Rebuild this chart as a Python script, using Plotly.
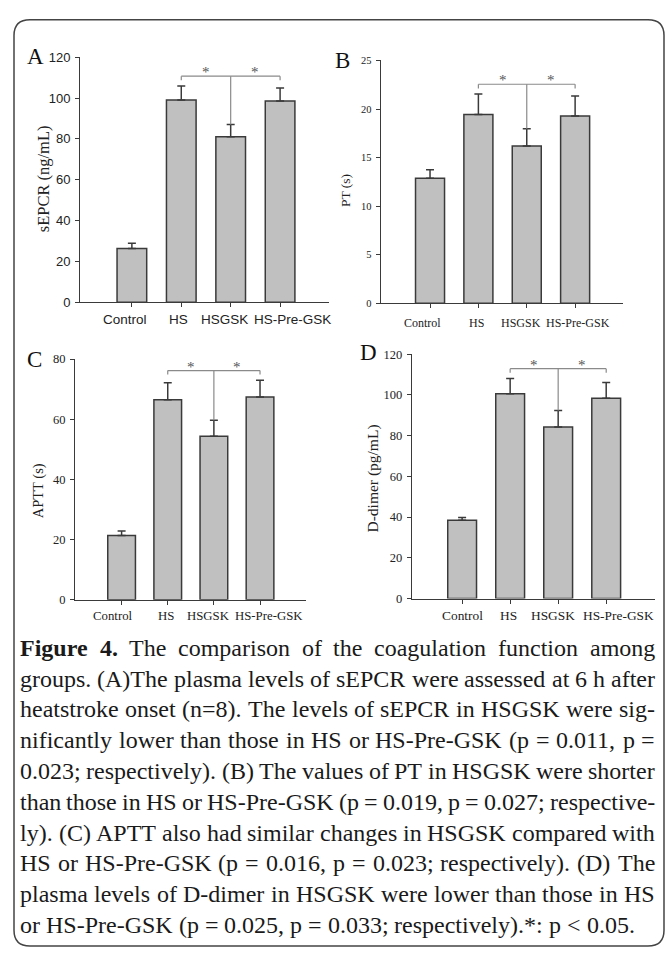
import plotly.graph_objects as go

W, H = 668, 956

# ---------------- data ----------------
CATEGORIES = ["Control", "HS", "HSGSK", "HS-Pre-GSK"]

SEPCR_MEAN = [26.3, 99.1, 81.1, 98.5]
SEPCR_SEM = [2.6, 6.8, 6.0, 6.4]

PT_MEAN = [12.87, 19.43, 16.2, 19.29]
PT_SEM = [0.88, 2.12, 1.77, 2.06]

APTT_MEAN = [21.4, 66.5, 54.4, 67.4]
APTT_SEM = [1.5, 5.6, 5.3, 5.6]

DDIMER_MEAN = [38.5, 100.6, 84.2, 98.4]
DDIMER_SEM = [1.3, 7.5, 8.2, 7.7]

Y_TICKS_A = [0, 20, 40, 60, 80, 100, 120]
Y_TICKS_B = [0, 5, 10, 15, 20, 25]
Y_TICKS_C = [0, 20, 40, 60, 80]
Y_TICKS_D = [0, 20, 40, 60, 80, 100, 120]

CAPTION_LINES = [
    "Figure 4. The comparison of the coagulation function among",
    "groups. (A)The plasma levels of sEPCR were assessed at 6 h after",
    "heatstroke onset (n=8). The levels of sEPCR in HSGSK were sig-",
    "nificantly lower than those in HS or HS-Pre-GSK (p = 0.011, p =",
    "0.023; respectively). (B) The values of PT in HSGSK were shorter",
    "than those in HS or HS-Pre-GSK (p = 0.019, p = 0.027; respective-",
    "ly). (C) APTT also had similar changes in HSGSK compared with",
    "HS or HS-Pre-GSK (p = 0.016, p = 0.023; respectively). (D) The",
    "plasma levels of D-dimer in HSGSK were lower than those in HS",
    "or HS-Pre-GSK (p = 0.025, p = 0.033; respectively).*: p < 0.05.",
]


def px(p):
    return p / W


def py(p):
    return 1 - p / H


SERIF = "Liberation Serif"
SANS = "Liberation Sans"
AXC = "#3a3a3a"

panels = [
    dict(letter="A", title="sEPCR (ng/mL)", mean=SEPCR_MEAN, sem=SEPCR_SEM, ticks=Y_TICKS_A,
         xdom=(80, 329), ydom=(300, 51), xr=(-1.05, 3.99),
         tfont=SANS, ytick_size=13, xtick_size=13.5, lab_shift=[-7, -3, -6.5, 12.5], lab_dy=17,
         title_size=16.5, title_pos=(43, 174), letter_pos=(35, 50)),
    dict(letter="B", title="PT (s)", mean=PT_MEAN, sem=PT_SEM, ticks=Y_TICKS_B,
         xdom=(380.7, 623), ydom=(301, 54.3), xr=(-1.02, 3.99),
         tfont=SERIF, ytick_size=10.5, xtick_size=12, lab_shift=[-8, -2, -6, 3], lab_dy=20,
         title_size=13.5, title_pos=(345, 187), letter_pos=(342, 54)),
    dict(letter="C", title="APTT (s)", mean=APTT_MEAN, sem=APTT_SEM, ticks=Y_TICKS_C,
         xdom=(75, 305.7), ydom=(602.3, 357.7), xr=(-1.01, 3.99),
         tfont=SERIF, ytick_size=12.5, xtick_size=12.8, lab_shift=[-9, -2, -5, 9], lab_dy=16,
         title_size=14.5, title_pos=(38, 492), letter_pos=(34, 358)),
    dict(letter="D", title="D-dimer (pg/mL)", mean=DDIMER_MEAN, sem=DDIMER_SEM, ticks=Y_TICKS_D,
         xdom=(411.7, 654.7), ydom=(601, 352.7), xr=(-1.05, 4.01),
         tfont=SERIF, ytick_size=12.5, xtick_size=13.4, lab_shift=[0, -2, -5, 12], lab_dy=17,
         title_size=15.5, title_pos=(373, 479), letter_pos=(368, 351)),
]

fig = go.Figure()
shapes = []
annotations = []
layout = {}

for i, p in enumerate(panels):
    n = "" if i == 0 else str(i + 1)
    xa, ya = "x" + n, "y" + n
    ymax = p["ticks"][-1]
    fig.add_trace(go.Bar(
        x=CATEGORIES, y=p["mean"], width=0.6,
        marker=dict(color="#c0c0c0", line=dict(color=AXC, width=1.5)),
        error_y=dict(type="data", symmetric=False, array=p["sem"],
                     arrayminus=[0] * len(p["sem"]), color=AXC, thickness=1.5, width=4),
        xaxis=xa, yaxis=ya, showlegend=False, hoverinfo="skip",
    ))
    layout["xaxis" + n] = dict(
        domain=[px(p["xdom"][0]), px(p["xdom"][1])], anchor=ya,
        range=list(p["xr"]), type="category", showticklabels=False,
        showline=True, linecolor=AXC, linewidth=1, showgrid=False, zeroline=False,
        ticks="outside", ticklen=4, tickcolor=AXC, tickwidth=1, fixedrange=True,
    )
    layout["yaxis" + n] = dict(
        domain=[py(p["ydom"][0]), py(p["ydom"][1])], anchor=xa,
        range=[0, ymax], tickvals=p["ticks"],
        showline=True, linecolor=AXC, linewidth=1, showgrid=False, zeroline=False,
        ticks="outside", ticklen=4, tickcolor=AXC, tickwidth=1,
        tickfont=dict(family=p["tfont"], size=p["ytick_size"], color="#222"),
        ticklabelstandoff=2, fixedrange=True,
    )

    # category labels (placed below each tick, nudged like the original figure)
    for ci, cat in enumerate(CATEGORIES):
        annotations.append(dict(x=ci, y=0, xref=xa, yref=ya, text=cat, showarrow=False,
                                xanchor="center", yanchor="middle",
                                xshift=p["lab_shift"][ci], yshift=-p["lab_dy"],
                                font=dict(family=p["tfont"], size=p["xtick_size"], color="#222")))

    # significance bracket derived from data
    tops = [m + s for m, s in zip(p["mean"], p["sem"])]
    yb = max(tops) + 0.04 * ymax
    drop = 0.017 * ymax
    bc = dict(color="#8a8a8a", width=1.2)
    for (x0, y0, x1, y1) in [(1, yb, 3, yb), (1, yb, 1, yb - drop), (3, yb, 3, yb - drop),
                             (2, yb, 2, tops[2])]:
        shapes.append(dict(type="line", xref=xa, yref=ya, x0=x0, y0=y0, x1=x1, y1=y1, line=bc))
    for xs in (1.5, 2.5):
        annotations.append(dict(x=xs, y=yb, xref=xa, yref=ya, text="*", showarrow=False,
                                yanchor="bottom", yshift=-6,
                                font=dict(family=SERIF, size=15, color="#555555")))

    # axis title and panel letter
    annotations.append(dict(x=px(p["title_pos"][0]), y=py(p["title_pos"][1]), xref="paper",
                            yref="paper", text=p["title"], textangle=-90, showarrow=False,
                            xanchor="center", yanchor="middle",
                            font=dict(family=SERIF, size=p["title_size"], color="#222")))
    annotations.append(dict(x=px(p["letter_pos"][0]), y=py(p["letter_pos"][1]), xref="paper",
                            yref="paper", text=p["letter"], showarrow=False,
                            xanchor="center", yanchor="middle",
                            font=dict(family=SERIF, size=23, color="#111")))

# ---------------- caption (justified) ----------------
TR = {" ": 250, "(": 333, ")": 333, "*": 500, ",": 250, "-": 333, ".": 250, "/": 278,
      ":": 278, ";": 278, "<": 564, "=": 564, ">": 564,
      "A": 722, "B": 667, "C": 667, "D": 722, "E": 611, "F": 556, "G": 722, "H": 722,
      "I": 333, "J": 389, "K": 722, "L": 611, "M": 889, "N": 722, "O": 722, "P": 556,
      "Q": 722, "R": 667, "S": 556, "T": 611, "U": 722, "V": 722, "W": 944, "X": 722,
      "Y": 722, "Z": 611,
      "a": 444, "b": 500, "c": 444, "d": 500, "e": 444, "f": 333, "g": 500, "h": 500,
      "i": 278, "j": 278, "k": 500, "l": 278, "m": 778, "n": 500, "o": 500, "p": 500,
      "q": 500, "r": 333, "s": 389, "t": 278, "u": 500, "v": 500, "w": 722, "x": 500,
      "y": 500, "z": 444}
TB = {"F": 611, "i": 278, "g": 500, "u": 556, "r": 444, "e": 444, ".": 250}

CAP_SIZE = 24
CAP_LEFT, CAP_RIGHT = 20, 655
CAP_TOP, CAP_STEP = 651, 31.3


def wwidth(word, bold=False):
    tot = 0
    for c in word:
        if c.isdigit():
            tot += 500
        elif bold and c in TB:
            tot += TB[c]
        else:
            tot += TR.get(c, 500)
    return tot * CAP_SIZE / 1000.0


def esc(s):
    return s.replace("&", "&amp;").replace("<", "&lt;").replace(">", "&gt;")


for li, line in enumerate(CAPTION_LINES):
    words = line.split(" ")
    bolds = [li == 0 and wi < 2 for wi in range(len(words))]
    widths = [wwidth(w, b) for w, b in zip(words, bolds)]
    last = li == len(CAPTION_LINES) - 1
    if last or len(words) < 2:
        gap = 250 * CAP_SIZE / 1000.0
    else:
        gap = (CAP_RIGHT - CAP_LEFT - sum(widths)) / (len(words) - 1)
    x = CAP_LEFT
    yc = CAP_TOP + CAP_STEP * li
    for w, b, ww in zip(words, bolds, widths):
        txt = "<b>%s</b>" % esc(w) if b else esc(w)
        annotations.append(dict(x=px(x), y=py(yc), xref="paper", yref="paper", text=txt,
                                showarrow=False, xanchor="left", yanchor="middle",
                                borderpad=0, borderwidth=0,
                                font=dict(family=SERIF, size=CAP_SIZE, color="#1a1a1a")))
        x += ww + gap

# ---------------- rounded border ----------------
L, T, R, B, r = 14, 13, 664, 954, 16
pts = [("M", L, T + r), ("Q", L, T, L + r, T), ("L", R - r, T), ("Q", R, T, R, T + r),
       ("L", R, B - r), ("Q", R, B, R - r, B), ("L", L + r, B), ("Q", L, B, L, B - r)]
path = ""
for seg in pts:
    cmd, coords = seg[0], seg[1:]
    cs = []
    for k in range(0, len(coords), 2):
        cs.append("%.5f,%.5f" % (px(coords[k]), py(coords[k + 1])))
    path += cmd + " " + " ".join(cs) + " "
path += "Z"
shapes.append(dict(type="path", xref="paper", yref="paper", path=path,
                   line=dict(color="#444", width=1.5)))

fig.update_layout(
    width=W, height=H, margin=dict(l=0, r=0, t=0, b=0),
    paper_bgcolor="white", plot_bgcolor="white",
    bargap=0.4, shapes=shapes, annotations=annotations, showlegend=False,
    **layout,
)

fig.write_html("out.html", config={"displayModeBar": False})
